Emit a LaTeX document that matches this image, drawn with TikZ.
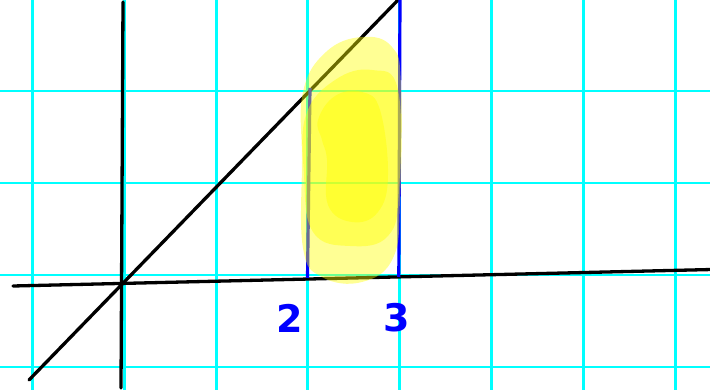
\documentclass[tikz,border=0pt]{standalone}
\usepackage{fontspec}
\newfontfamily\handfont{DejaVu Sans}
\definecolor{hlyellow}{RGB}{255,255,0}
\definecolor{gridcyan}{RGB}{0,255,255}
\definecolor{penblue}{RGB}{0,0,255}
\begin{document}
\begin{tikzpicture}[x=1pt,y=-1pt,
  gridv/.style={draw=gridcyan, line width=3pt},
  gridh/.style={draw=gridcyan, line width=1.8pt},
  axis/.style={draw=black, line width=3.3pt, line cap=round},
  bound/.style={draw=penblue, line width=3.2pt},
  hl/.style={fill=hlyellow, fill opacity=0.42, draw=none},
  lbl/.style={text=penblue, font=\handfont\bfseries\fontsize{38}{38}\selectfont, inner sep=0pt}]
\useasboundingbox (0,0) rectangle (710,390);
\fill[white] (0,0) rectangle (710,390);
% grid
\foreach \gx in {32,124,216,307.5,399,491,583,675}
  \draw[gridv] (\gx,0) -- (\gx,390);
\foreach \gy in {91.3,183,275,367}
  \draw[gridh] (0,\gy) -- (710,\gy);
% axes
\coordinate (ytop) at (123,2);
\coordinate (ybot) at (121,388);
\coordinate (xleft) at (13,286);
\coordinate (xright) at (712,269.5);
\coordinate (dlow) at (29,380);
\coordinate (dhigh) at (399,-1);
\draw[axis] (ytop) -- (ybot);
\draw[axis] (xleft) -- (xright);
\draw[axis] (dlow) -- (dhigh);
% bounds
\coordinate (b2top) at (310,88);
\coordinate (b2bot) at (307.5,278);
\coordinate (b3top) at (400,-2);
\coordinate (b3bot) at (398.8,277);
\draw[bound] (b2top) -- (b2bot);
\draw[bound] (b3top) -- (b3bot);
% highlighter
\fill[hl] plot[smooth cycle, tension=0.7] coordinates {(303,92) (326,52) (362,37) (392,47) (401,85) (400,200) (393,258) (362,282) (322,277) (303,248) (302,160)};
\fill[hl] plot[smooth cycle, tension=0.7] coordinates {(306,115) (335,80) (372,70) (398,90) (399,190) (388,236) (350,246) (313,232) (304,175)};
\fill[hl] plot[smooth cycle, tension=0.7] coordinates {(318,120) (335,96) (362,92) (380,110) (388,175) (378,212) (352,222) (328,205) (327,160) (322,140)};
% labels
\node[lbl] (two) at (290,318) {2};
\node[lbl] (three) at (397,318) {3};
\end{tikzpicture}
\end{document}
